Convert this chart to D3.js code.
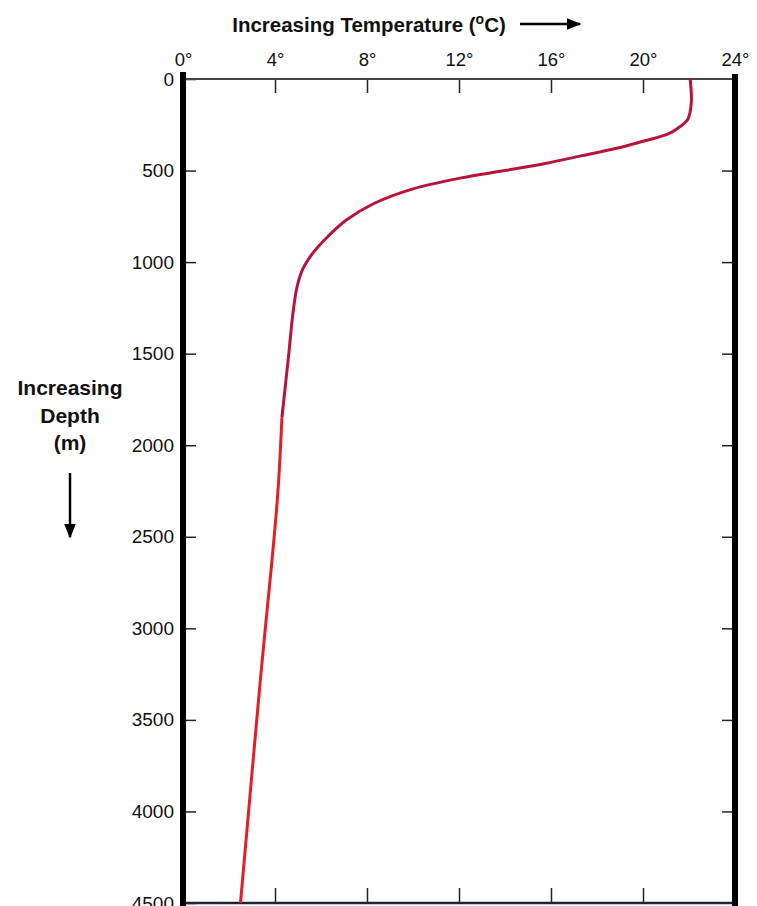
<!DOCTYPE html>
<html>
<head>
<meta charset="utf-8">
<script src="https://cdn.jsdelivr.net/npm/d3@7"></script>
<style>
  body { margin: 0; background: #fff; }
  svg text { font-family: "Liberation Sans", Arial, sans-serif; fill: #111; }
  .tick line { stroke: #222; stroke-width: 1.5; }
  .axis .domain { display: none; }
</style>
</head>
<body>
<div id="chart"></div>
<script>
// Temperature profile
// upper (thermocline) part
var upperDepth = [0, 130, 220, 270, 300, 340, 380, 420, 460, 500, 540, 600, 680, 770, 860, 950, 1040, 1140, 1280, 1500, 1850];
var upperTemp  = [22.05, 22.1, 21.95, 21.5, 21.1, 20.0, 18.8, 17.3, 15.8, 14.0, 12.1, 10.0, 8.3, 7.1, 6.3, 5.65, 5.2, 4.95, 4.78, 4.6, 4.3];
// deep part
var lowerDepth = [1850, 2300, 3300, 4500];
var lowerTemp  = [4.3, 4.1, 3.35, 2.5];

var tempTicks = [0, 4, 8, 12, 16, 20, 24];
var depthTicks = [0, 500, 1000, 1500, 2000, 2500, 3000, 3500, 4000, 4500];

var svgWidth = 757;
var svgHeight = 906;

var svg = d3.select("#chart")
    .append("svg")
    .attr("width", svgWidth)
    .attr("height", svgHeight);

// scales
var xScale = d3.scaleLinear().domain([0, 24]).range([183, 735]);
var yScale = d3.scaleLinear().domain([0, 4500]).range([79, 903]);

// top axis (labels above, ticks pointing down)
var topAxis = d3.axisTop(xScale)
    .tickValues(tempTicks)
    .tickSize(-14)
    .tickPadding(13)
    .tickFormat(d => d + "°");

svg.append("g")
    .attr("class", "axis")
    .attr("transform", `translate(0, ${yScale(0)})`)
    .call(topAxis)
    .call(g => g.selectAll("text").attr("font-size", 18.5).attr("font-family", "Liberation Sans, Arial, sans-serif").attr("fill", "#111"));

// bottom ticks pointing up
svg.append("g")
    .attr("class", "axis")
    .attr("transform", `translate(0, ${yScale(4500)})`)
    .call(d3.axisBottom(xScale).tickValues(tempTicks.slice(1, -1)).tickSize(-15).tickFormat(""));

// left axis
var leftAxis = d3.axisLeft(yScale)
    .tickValues(depthTicks)
    .tickSize(-13)
    .tickPadding(9)
    .tickFormat(d => d);

svg.append("g")
    .attr("class", "axis")
    .attr("transform", `translate(${xScale(0)}, 0)`)
    .call(leftAxis)
    .call(g => g.selectAll("text").attr("font-size", 19).attr("font-family", "Liberation Sans, Arial, sans-serif").attr("fill", "#111"));

// right ticks pointing in
svg.append("g")
    .attr("class", "axis")
    .attr("transform", `translate(${xScale(24)}, 0)`)
    .call(d3.axisRight(yScale).tickValues(depthTicks.slice(1, -1)).tickSize(-13).tickFormat(""));

// frame: thin top & bottom, thick sides
svg.append("line")
    .attr("x1", xScale(0)).attr("x2", xScale(24))
    .attr("y1", yScale(0)).attr("y2", yScale(0))
    .attr("stroke", "#444").attr("stroke-width", 2);

svg.append("line")
    .attr("x1", xScale(0)).attr("x2", xScale(24))
    .attr("y1", yScale(4500)).attr("y2", yScale(4500))
    .attr("stroke", "#1c2733").attr("stroke-width", 2.5);

svg.append("line")
    .attr("x1", xScale(0)).attr("x2", xScale(0))
    .attr("y1", yScale(0) - 7).attr("y2", svgHeight)
    .attr("stroke", "#000").attr("stroke-width", 6);

svg.append("line")
    .attr("x1", xScale(24)).attr("x2", xScale(24))
    .attr("y1", yScale(0) - 5).attr("y2", svgHeight)
    .attr("stroke", "#000").attr("stroke-width", 6);

// profile line
var profile = d3.line()
    .x(d => xScale(d[0]))
    .y(d => yScale(d[1]))
    .curve(d3.curveCatmullRom.alpha(0.5));

svg.append("path")
    .datum(lowerTemp.map((t, i) => [t, lowerDepth[i]]))
    .attr("d", profile)
    .attr("fill", "none")
    .attr("stroke", "#e41e26")
    .attr("stroke-width", 3);

svg.append("path")
    .datum(upperTemp.map((t, i) => [t, upperDepth[i]]))
    .attr("d", profile)
    .attr("fill", "none")
    .attr("stroke", "#b8143a")
    .attr("stroke-width", 3);

// arrowhead marker
svg.append("defs").append("marker")
    .attr("id", "arrow")
    .attr("viewBox", "0 0 10 10")
    .attr("refX", 9).attr("refY", 5)
    .attr("markerWidth", 6).attr("markerHeight", 6)
    .attr("markerUnits", "strokeWidth")
    .attr("orient", "auto")
    .append("path")
    .attr("d", "M0,1 L10,5 L0,9 Z")
    .attr("fill", "#000");

// title + arrow
var title = svg.append("text")
    .attr("x", 369)
    .attr("y", 32)
    .attr("text-anchor", "middle")
    .attr("font-size", 20.5)
    .attr("font-weight", "bold");
title.append("tspan").text("Increasing Temperature (");
title.append("tspan").attr("dy", -8).attr("font-size", 14).text("o");
title.append("tspan").attr("dy", 8).text("C)");

svg.append("line")
    .attr("x1", 520).attr("x2", 580)
    .attr("y1", 24).attr("y2", 24)
    .attr("stroke", "#000").attr("stroke-width", 2.5)
    .attr("marker-end", "url(#arrow)");

// side label + arrow
var sideLines = ["Increasing", "Depth", "(m)"];
svg.selectAll(".sideLabel")
    .data(sideLines)
    .enter()
    .append("text")
    .attr("class", "sideLabel")
    .attr("x", 70)
    .attr("y", (d, i) => 395 + i * 27.5)
    .attr("text-anchor", "middle")
    .attr("font-size", 21)
    .attr("font-weight", "bold")
    .text(d => d);

svg.append("line")
    .attr("x1", 70).attr("x2", 70)
    .attr("y1", 473).attr("y2", 537)
    .attr("stroke", "#000").attr("stroke-width", 2.5)
    .attr("marker-end", "url(#arrow)");
</script>
</body>
</html>
